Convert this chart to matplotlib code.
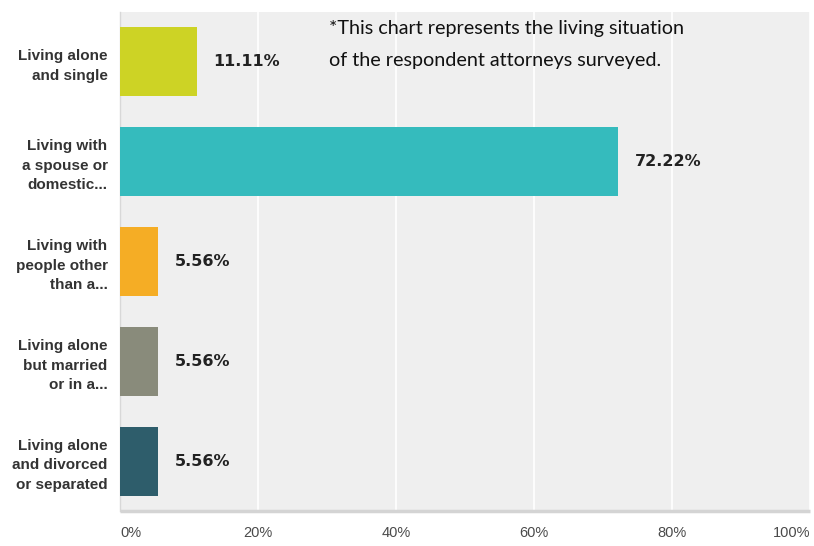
import matplotlib
matplotlib.use("Agg")
import matplotlib.pyplot as plt

categories = [
    "Living alone\nand single",
    "Living with\na spouse or\ndomestic...",
    "Living with\npeople other\nthan a...",
    "Living alone\nbut married\nor in a...",
    "Living alone\nand divorced\nor separated",
]
values = [11.11, 72.22, 5.56, 5.56, 5.56]
colors = ["#cdd325", "#35bbbd", "#f5ad25", "#898b7b", "#2e5d6b"]
xticks = [0, 20, 40, 60, 80, 100]
xticklabels = ["0%", "20%", "40%", "60%", "80%", "100%"]
note = "*This chart represents the living situation\nof the respondent attorneys surveyed."

W, H = 814, 546
fig = plt.figure(figsize=(W / 100, H / 100), dpi=100)
ax = fig.add_axes([120 / W, 1 - 511 / H, 690 / W, 499 / H])
ax.set_facecolor("#efefef")

ypos = list(range(len(categories)))
ax.barh(ypos, values, height=0.69, color=colors, zorder=3)
ax.set_xlim(0, 100)
ax.set_ylim(4.5, -0.5)

ax.set_xticks(xticks)
ax.set_xticklabels(xticklabels, fontsize=10.5, color="#4a4a4a",
                   family=["Liberation Sans", "DejaVu Sans"])
tl = ax.get_xticklabels()
tl[0].set_ha("left")
tl[-1].set_ha("right")
ax.tick_params(axis="x", length=0, pad=11)
ax.xaxis.grid(True, color="white", linewidth=1.2, zorder=1)
ax.set_axisbelow(True)

ax.set_yticks(ypos)
ax.set_yticklabels(categories, fontsize=11, fontweight="bold", color="#333333",
                   family=["Liberation Sans", "DejaVu Sans"], linespacing=1.5)
ax.tick_params(axis="y", length=0, pad=9)

for s in ["top", "right"]:
    ax.spines[s].set_visible(False)
ax.spines["left"].set_color("#d8d8d8")
ax.spines["left"].set_linewidth(1)
ax.spines["bottom"].set_color("#d4d4d4")
ax.spines["bottom"].set_linewidth(2.5)
ax.spines["bottom"].set_capstyle("butt")

for y, v in zip(ypos, values):
    ax.annotate(f"{v:.2f}%", xy=(v, y), xytext=(12, 0), textcoords="offset points",
                va="center", ha="left", fontsize=11.5, fontweight="bold",
                color="#222222", family=["DejaVu Sans"], zorder=4)

ax.text(0.303, 0.984, note, transform=ax.transAxes, ha="left", va="top",
        fontsize=14.2, color="#111111", family=["Lato", "DejaVu Sans"],
        linespacing=2.1, zorder=5)

fig.savefig("out.png", dpi=100, facecolor="white")
